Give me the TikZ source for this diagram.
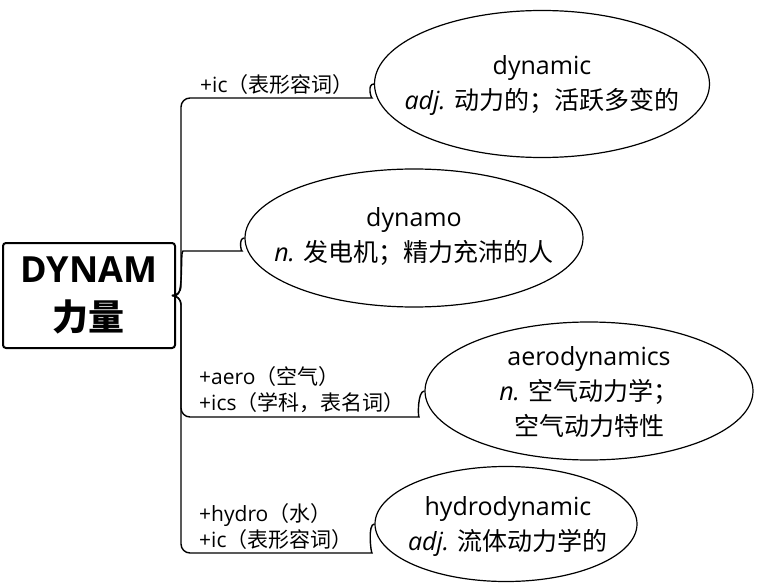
\documentclass[tikz,border=0pt]{standalone}
\usepackage{fontspec}
\setmainfont{Open Sans}
\newfontfamily\cjk{Noto Sans CJK SC}
\usetikzlibrary{shapes.geometric}
\begin{document}
\begin{tikzpicture}[x=1pt,y=-1pt,
  bubble/.style={draw, ellipse, line width=1.2pt, inner sep=0pt},
  btext/.style={inner sep=0pt, align=center, font=\fontsize{25}{35}\selectfont},
  lbl/.style={anchor=west, inner sep=0pt, align=left,
    font=\fontsize{21}{26}\selectfont},
  conn/.style={line width=1.4pt, rounded corners=9pt}]
\useasboundingbox (0,0) rectangle (758,583);

\node[draw, line width=2pt, rounded corners=3pt, minimum width=172pt, minimum height=105pt,
  inner sep=0pt, align=center, font=\bfseries\fontsize{36}{48}\selectfont]
  (root) at (89,295.5) {DYNAM\\{\cjk 力量}};

\node[bubble, minimum width=335pt, minimum height=147pt] (e1) at (542,84) {};
\node[btext] (t1) at (542,86) {dynamic\\{\itshape adj.} {\cjk 动力的；活跃多变的}};
\node[bubble, minimum width=338pt, minimum height=138pt] (e2) at (414,238) {};
\node[btext] (t2) at (414,237) {dynamo\\{\itshape n.} {\cjk 发电机；精力充沛的人}};
\node[bubble, minimum width=328pt, minimum height=138pt] (e3) at (589,391) {};
\node[btext] (t3) at (589,392) {aerodynamics\\{\itshape n.} {\cjk 空气动力学；}\\{\cjk 空气动力特性}};
\node[bubble, minimum width=262pt, minimum height=115pt] (e4) at (506,524) {};
\node[btext] (t4) at (508,527) {hydrodynamic\\{\itshape adj.} {\cjk 流体动力学的}};

\node[lbl] (l1) at (200,85) {+ic{\cjk （表形容词）}};
\node[lbl] (l3) at (199,390) {+aero{\cjk （空气）}\\+ics{\cjk （学科，表名词）}};
\node[lbl] (l4) at (199,526.5) {+hydro{\cjk （水）}\\+ic{\cjk （表形容词）}};

\coordinate (j) at (181,295.5);
\coordinate (k1) at (181,98);  \coordinate (h1) at (363,98);
\coordinate (k2) at (192,251); \coordinate (h2) at (233,251);
\coordinate (k3) at (181,417); \coordinate (h3) at (410,417);
\coordinate (k4) at (181,553); \coordinate (h4) at (363,553);

\draw[conn] (root.east) -- (j) -- (k1) -- (h1) [sharp corners]
  .. controls +(8,0) and +(-7,0) .. (e1.west);
\draw[conn] (root.east) .. controls (184,295) and (180,251) .. (k2) -- (h2) [sharp corners]
  .. controls +(8,0) and +(-6,0) .. (e2.west);
\draw[conn] (root.east) -- (j) -- (k3) -- (h3) [sharp corners]
  .. controls +(8,0) and +(-7,0) .. (e3.west);
\draw[conn] (root.east) -- (j) -- (k4) -- (h4) [sharp corners]
  .. controls +(8,0) and +(-7,0) .. (e4.west);
\end{tikzpicture}
\end{document}
